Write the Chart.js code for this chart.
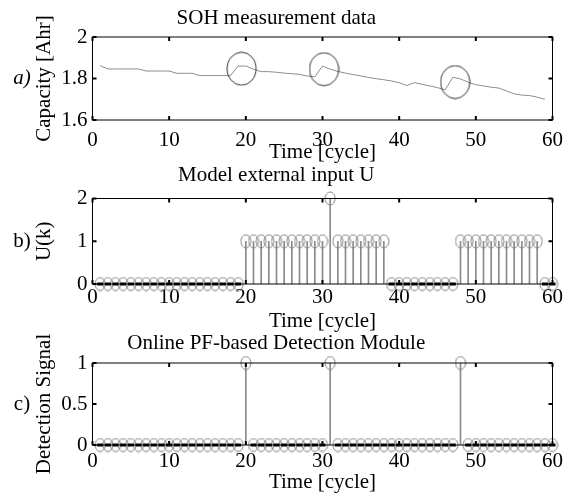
<!DOCTYPE html>
<html>
<head>
<meta charset="utf-8">
<script src="https://cdn.jsdelivr.net/npm/chart.js@4.4.1/dist/chart.umd.min.js"></script>
<style>
    html, body { margin: 0; padding: 0; background: #fff; }
    #wrap { position: relative; width: 573px; height: 498px; overflow: hidden; }
    #wrap canvas { position: absolute; left: 0; }
</style>
</head>
<body>
<div id="wrap">
    <canvas id="chartSoh"></canvas>
    <canvas id="chartInput"></canvas>
    <canvas id="chartDetect"></canvas>
</div>
<script>
// ---- data ----
const cycles = [1,2,3,4,5,6,7,8,9,10,11,12,13,14,15,16,17,18,19,20,
                21,22,23,24,25,26,27,28,29,30,31,32,33,34,35,36,37,38,39,40,
                41,42,43,44,45,46,47,48,49,50,51,52,53,54,55,56,57,58,59,60];

// capacity [Ahr], cycles 1..59
const capacity = [1.862,1.846,1.846,1.846,1.846,1.846,1.836,1.836,1.836,1.836,
                  1.825,1.825,1.825,1.814,1.814,1.814,1.814,1.814,1.860,1.860,
                  1.845,1.833,1.833,1.830,1.826,1.823,1.820,1.812,1.808,1.860,
                  1.845,1.834,1.826,1.819,1.812,1.805,1.799,1.794,1.788,1.780,
                  1.766,1.780,1.772,1.764,1.756,1.745,1.806,1.798,1.782,1.770,
                  1.764,1.758,1.754,1.740,1.726,1.720,1.718,1.710,1.700];

// circled regions in panel a)
const markCycles   = [19.45, 30.2, 47.3];
const markCapacity = [1.847, 1.845, 1.783];

// model external input U(k)
const inputU = [0,0,0,0,0,0,0,0,0,0,0,0,0,0,0,0,0,0,0,1,
                1,1,1,1,1,1,1,1,1,1,2,1,1,1,1,1,1,1,0,0,
                0,0,0,0,0,0,0,1,1,1,1,1,1,1,1,1,1,1,0,0];

// detection signal
const detection = [0,0,0,0,0,0,0,0,0,0,0,0,0,0,0,0,0,0,0,1,
                   0,0,0,0,0,0,0,0,0,0,1,0,0,0,0,0,0,0,0,0,
                   0,0,0,0,0,0,0,1,0,0,0,0,0,0,0,0,0,0,0,0];

const xTicks      = [0, 10, 20, 30, 40, 50, 60];
const sohTicks    = [1.6, 1.8, 2];
const inputTicks  = [0, 1, 2];
const detectTicks = [0, 0.5, 1];

// ---- look ----
Chart.defaults.font.family = "'Liberation Serif', 'Times New Roman', serif";
Chart.defaults.font.size = 21;
Chart.defaults.color = '#000';

function ellipseMarker(w, h, color) {
    const c = document.createElement('canvas');
    c.width = w; c.height = h;
    const g = c.getContext('2d');
    g.strokeStyle = color;
    g.lineWidth = 1;
    g.beginPath();
    g.ellipse(w / 2, h / 2, w / 2 - 1, h / 2 - 1, 0, 0, Math.PI * 2);
    g.stroke();
    return c;
}

const stemMarker = ellipseMarker(12, 15, '#858585');
const bigMarker  = ellipseMarker(31, 35, '#333');

// box around the axes, inward ticks, and the a)/b)/c) tag
const frameTicks = {
    id: 'frameTicks',
    afterDraw(chart, args, o) {
        const { ctx, chartArea: a } = chart;
        const x = chart.scales.x, y = chart.scales.y;
        ctx.save();
        ctx.strokeStyle = '#000';
        ctx.lineWidth = 1;
        ctx.strokeRect(a.left, a.top, a.right - a.left, a.bottom - a.top);
        ctx.lineWidth = 2;
        const len = 4;
        ctx.beginPath();
        x.ticks.forEach(t => {
            const px = x.getPixelForValue(t.value);
            ctx.moveTo(px, a.top);    ctx.lineTo(px, a.top + len);
            ctx.moveTo(px, a.bottom); ctx.lineTo(px, a.bottom - len);
        });
        y.ticks.forEach(t => {
            const py = y.getPixelForValue(t.value);
            ctx.moveTo(a.left, py);  ctx.lineTo(a.left + len, py);
            ctx.moveTo(a.right, py); ctx.lineTo(a.right - len, py);
        });
        ctx.stroke();
        if (o.label) {
            ctx.font = (o.italic ? 'italic ' : '') + "21px 'Liberation Serif', serif";
            ctx.textAlign = 'center';
            ctx.textBaseline = 'middle';
            ctx.fillStyle = '#000';
            ctx.fillText(o.label, 22, (a.top + a.bottom) / 2);
        }
        ctx.restore();
    }
};

function panel(id, top, height, cfg) {
    const cv = document.getElementById(id);
    cv.width = 573;
    cv.height = height;
    cv.style.top = top + 'px';
    return new Chart(cv, {
        type: 'scatter',
        data: { datasets: cfg.datasets },
        options: {
            responsive: false,
            animation: false,
            layout: { padding: { left: 0, right: 20.5, top: 0, bottom: 0 } },
            plugins: {
                legend:  { display: false },
                tooltip: { enabled: false },
                title: {
                    display: true,
                    text: cfg.title,
                    color: '#000',
                    font: { size: 21, weight: 'normal', lineHeight: 1.2 },
                    padding: cfg.titlePad
                },
                frameTicks: { label: cfg.label, italic: cfg.italic }
            },
            scales: {
                x: {
                    type: 'linear', min: 0, max: 60, offset: false,
                    afterBuildTicks: s => { s.ticks = xTicks.map(v => ({ value: v })); },
                    afterFit: s => { s.height = cfg.xHeight; },
                    grid:   { display: false, drawTicks: false, offset: false },
                    border: { display: false },
                    ticks:  { padding: cfg.xTickPad, maxRotation: 0, autoSkip: false, callback: v => String(v) },
                    title:  { display: true, text: 'Time [cycle]', padding: { top: 0, bottom: cfg.xTitlePad } }
                },
                y: {
                    type: 'linear', min: cfg.yMin, max: cfg.yMax,
                    afterBuildTicks: s => { s.ticks = cfg.yTicks.map(v => ({ value: v })); },
                    afterFit: s => { s.width = 92.5; },
                    grid:   { display: false, drawTicks: false },
                    border: { display: false },
                    ticks:  { padding: 5, autoSkip: false, callback: v => String(v) },
                    title:  { display: true, text: cfg.yTitle, padding: { top: 31.4, bottom: 0 } }
                }
            }
        },
        plugins: [frameTicks]
    });
}

function stemSets(values) {
    const pts   = cycles.map((c, i) => ({ x: c, y: values[i] }));
    const stems = pts.filter(p => p.y !== 0);
    const zeros = pts.filter(p => p.y === 0);
    return [
        {   // black dash of the zero-level markers
            data: zeros,
            pointStyle: 'line',
            pointRadius: 3,
            pointBorderColor: '#000',
            pointBorderWidth: 3,
            clip: false
        },
        {   // open circles
            data: pts,
            pointStyle: stemMarker,
            pointRadius: 6,
            clip: false
        },
        {   // stems
            type: 'bar',
            data: stems,
            barThickness: 1,
            backgroundColor: '#8a8a8a',
            borderWidth: 0
        }
    ];
}

panel('chartSoh', 0, 170, {
    title: 'SOH measurement data',
    titlePad: { top: 5.4, bottom: 6.4 },
    xHeight: 50, xTickPad: 7.4, xTitlePad: 5.4,
    yMin: 1.6, yMax: 2, yTicks: sohTicks,
    yTitle: 'Capacity [Ahr]',
    label: 'a)', italic: true,
    datasets: [
        {
            data: markCycles.map((c, i) => ({ x: c, y: markCapacity[i] })),
            pointStyle: bigMarker,
            pointRadius: 15,
            clip: false
        },
        {
            data: capacity.map((v, i) => ({ x: cycles[i], y: v })),
            showLine: true,
            pointRadius: 0,
            borderColor: '#8c8c8c',
            borderWidth: 1
        }
    ]
});

panel('chartInput', 155, 180, {
    title: 'Model external input U',
    titlePad: { top: 7.4, bottom: 10.9 },
    xHeight: 51, xTickPad: 0.4, xTitlePad: 1.4,
    yMin: 0, yMax: 2, yTicks: inputTicks,
    yTitle: 'U(k)',
    label: 'b)', italic: false,
    datasets: stemSets(inputU)
});

panel('chartDetect', 320, 178, {
    title: 'Online PF-based Detection Module',
    titlePad: { top: 10.4, bottom: 7.4 },
    xHeight: 53, xTickPad: 3.4, xTitlePad: 3.4,
    yMin: 0, yMax: 1, yTicks: detectTicks,
    yTitle: 'Detection Signal',
    label: 'c)', italic: false,
    datasets: stemSets(detection)
});
</script>
</body>
</html>
